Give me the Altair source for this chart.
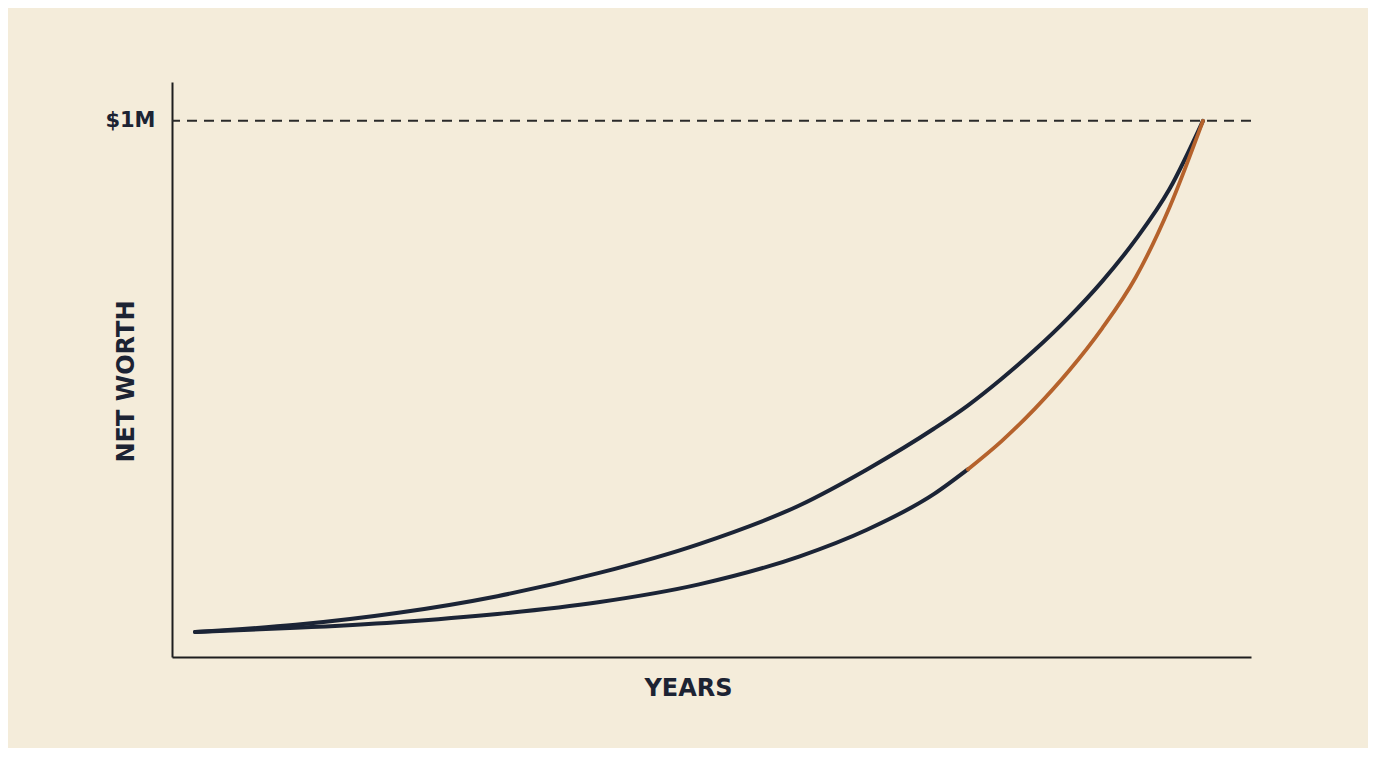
import altair as alt
import pandas as pd

# Data (years vs net worth in $M)
years = [0, 3, 6, 9, 12, 15, 18, 20, 22, 23, 24, 25, 26, 27, 28, 29, 30]
upper_values = [0.0, 0.014, 0.037, 0.070, 0.115, 0.172, 0.248, 0.318, 0.398,
                0.443, 0.495, 0.552, 0.615, 0.686, 0.768, 0.866, 1.0]
lower_values = [0.0, 0.008, 0.019, 0.035, 0.058, 0.093, 0.148, 0.200, 0.270,
                0.318, 0.373, 0.437, 0.510, 0.594, 0.694, 0.830, 1.0]
highlight_start = 23
target = [1.0]
target_label = "$1M"

BG = "#f4ecda"
NAVY = "#1b2436"
ORANGE = "#b5622c"
INK = "#1c2333"
FONT = "DejaVu Sans"

df_upper = pd.DataFrame({"year": years, "value": upper_values})
df_lower_dark = pd.DataFrame({
    "year": [y for y in years if y <= highlight_start],
    "value": [v for y, v in zip(years, lower_values) if y <= highlight_start],
})
df_orange = pd.DataFrame({
    "year": [y for y in years if y >= highlight_start],
    "value": [v for y, v in zip(years, lower_values) if y >= highlight_start],
})
df_target = pd.DataFrame({"value": target})

xscale = alt.Scale(domain=[-0.685, 31.43], nice=False, zero=False)
yscale = alt.Scale(domain=[-0.049, 1.076], nice=False, zero=False)

xaxis = alt.Axis(
    title="YEARS", labels=False, ticks=False, grid=False,
    domainColor="#1e1e1e", domainWidth=2,
    titleFont=FONT, titleFontSize=24, titleFontWeight="bold", titleColor=INK,
    titleX=516, titleY=31, titleBaseline="middle", titleAlign="center",
)
yaxis = alt.Axis(
    title="NET WORTH", values=target, labelExpr=f"'{target_label}'",
    ticks=False, grid=False, domainColor="#1e1e1e", domainWidth=2,
    labelFont=FONT, labelFontSize=21, labelFontWeight="bold", labelColor=INK,
    labelPadding=17,
    titleFont=FONT, titleFontSize=24, titleFontWeight="bold", titleColor=INK,
    titleX=-46, titleY=299, titleAngle=270, titleBaseline="middle", titleAlign="center",
)

rule = alt.Chart(df_target).mark_rule(
    color="#2a2a2a", strokeWidth=2, strokeDash=[10, 7]
).encode(y=alt.Y("value:Q", scale=yscale, axis=yaxis))


def curve(data, color, width):
    return alt.Chart(data).mark_line(
        color=color, strokeWidth=width, interpolate="monotone", strokeCap="round"
    ).encode(
        x=alt.X("year:Q", scale=xscale, axis=xaxis),
        y=alt.Y("value:Q", scale=yscale, axis=yaxis),
    )


chart = alt.layer(
    rule,
    curve(df_upper, NAVY, 4),
    curve(df_lower_dark, NAVY, 4),
    curve(df_orange, ORANGE, 3.8),
).properties(
    width=1079, height=575,
    autosize=alt.AutoSizeParams(type="none"),
    padding={"left": 164, "top": 74, "right": 117, "bottom": 91},
    background=BG,
).configure_view(stroke=None)

chart.save("out.html", embed_options={"renderer": "svg", "actions": False})
